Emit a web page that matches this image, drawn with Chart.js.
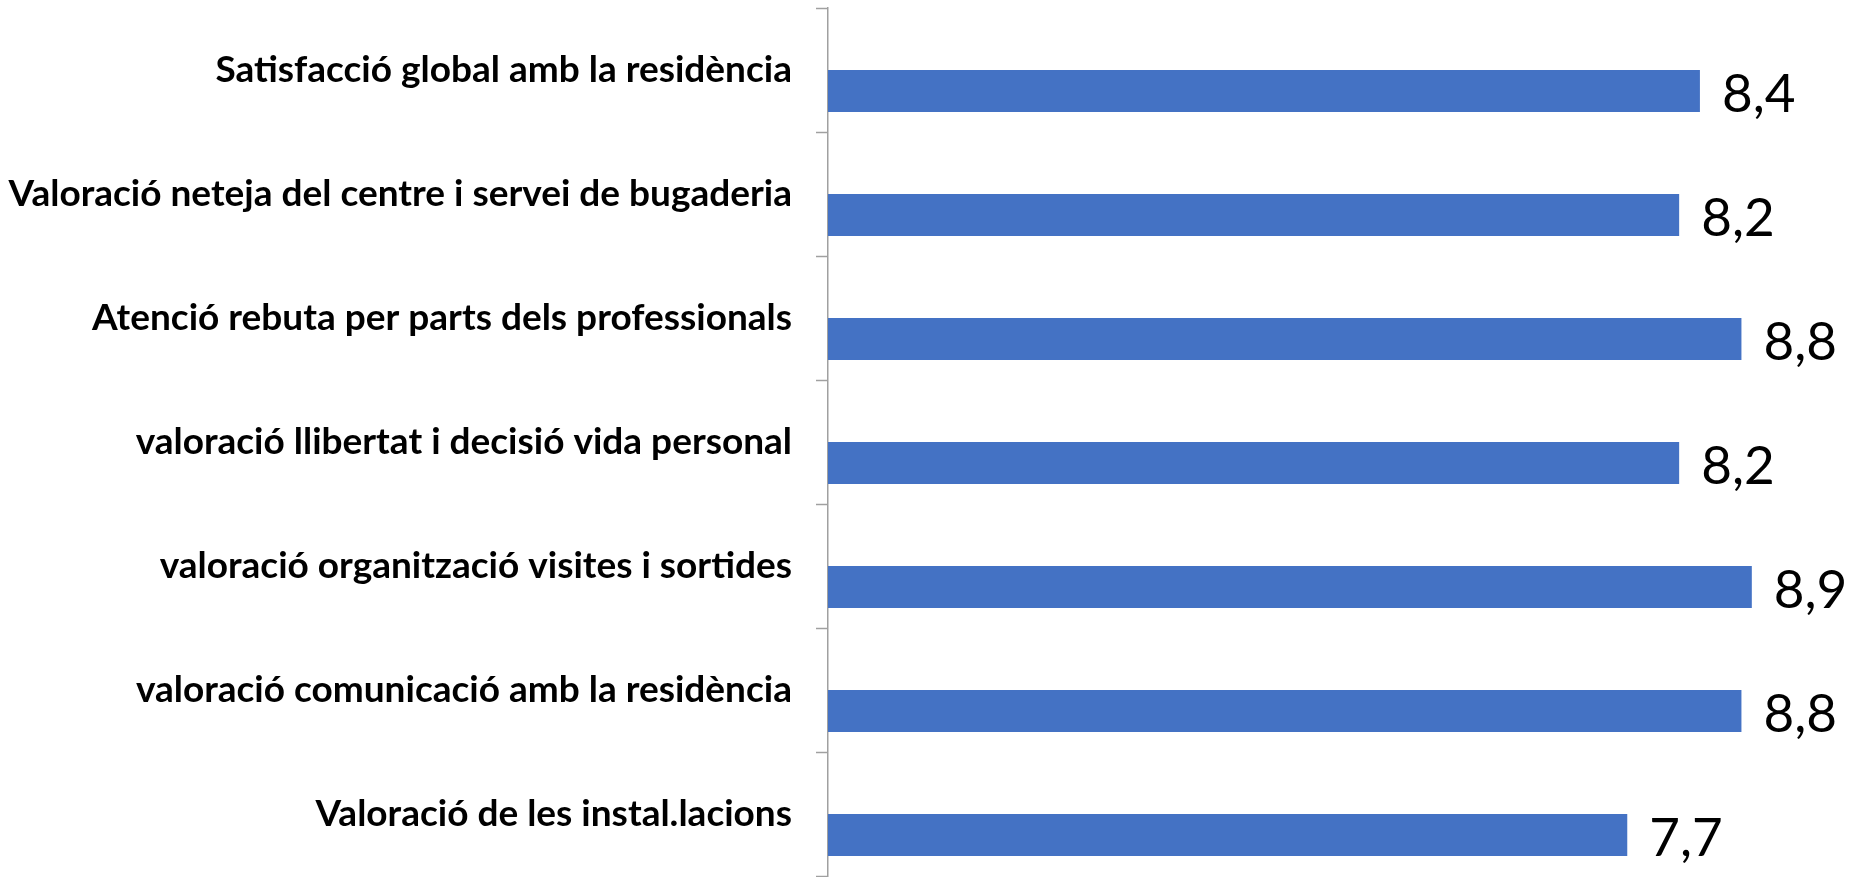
<!DOCTYPE html>
<html>
<head>
<meta charset="utf-8">
<script src="https://cdn.jsdelivr.net/npm/chart.js@4.4.1/dist/chart.umd.min.js"></script>
<style>
  html, body { margin: 0; padding: 0; background: #ffffff; overflow: hidden; }
  #wrap { width: 1860px; height: 877px; overflow: hidden; position: relative; }
  #box { width: 1866px; height: 877px; position: absolute; left: 0; top: 0; }
</style>
</head>
<body>
<div id="wrap"><div id="box"><canvas id="c"></canvas></div></div>
<script>
const categories = [
  "Satisfacció global amb la residència",
  "Valoració neteja del centre i servei de bugaderia",
  "Atenció rebuta per parts dels professionals",
  "valoració llibertat i decisió vida personal",
  "valoració organització visites i sortides",
  "valoració comunicació amb la residència",
  "Valoració de les instal.lacions"
];
const values = [8.4, 8.2, 8.8, 8.2, 8.9, 8.8, 7.7];
const emptySeries = [null, null, null, null, null, null, null];
const axisMin = 0;
const axisMax = 10;

const valueLabels = {
  id: 'valueLabels',
  afterDatasetsDraw(chart) {
    const ctx = chart.ctx;
    const meta = chart.getDatasetMeta(1);
    ctx.save();
    ctx.font = '400 53px Lato, "Open Sans", sans-serif';
    ctx.fillStyle = '#000000';
    ctx.textAlign = 'left';
    ctx.textBaseline = 'alphabetic';
    meta.data.forEach((bar, i) => {
      const v = values[i];
      if (v == null) return;
      const txt = v.toFixed(1).replace('.', ',');
      ctx.fillText(txt, bar.x + 22, bar.y + 21);
    });
    ctx.restore();
  }
};

new Chart(document.getElementById('c'), {
  type: 'bar',
  data: {
    labels: categories,
    datasets: [
      { label: 'buit', data: emptySeries, backgroundColor: '#4472C4' },
      { label: 'valor', data: values, backgroundColor: '#4472C4', borderWidth: 0 }
    ]
  },
  options: {
    indexAxis: 'y',
    responsive: true,
    maintainAspectRatio: false,
    animation: false,
    layout: { padding: { top: 8, bottom: 1, left: 0, right: 0 } },
    categoryPercentage: 0.677,
    barPercentage: 1.0,
    plugins: {
      legend: { display: false },
      tooltip: { enabled: false }
    },
    scales: {
      x: {
        min: axisMin,
        max: axisMax,
        display: false
      },
      y: {
        offset: true,
        afterFit(scale) {
          scale.width = 828;
          scale.paddingTop = 0;
          scale.paddingBottom = 0;
        },
        grid: {
          offset: true,
          drawOnChartArea: false,
          drawTicks: true,
          tickLength: 12,
          tickColor: '#a0a0a0',
          tickWidth: 1.5
        },
        border: { display: true, color: '#a0a0a0', width: 1.5 },
        ticks: {
          padding: 24,
          color: '#000000',
          font: { family: 'Lato, "Open Sans", sans-serif', size: 37, weight: 'bold' }
        }
      }
    }
  },
  plugins: [valueLabels]
});
</script>
</body>
</html>
